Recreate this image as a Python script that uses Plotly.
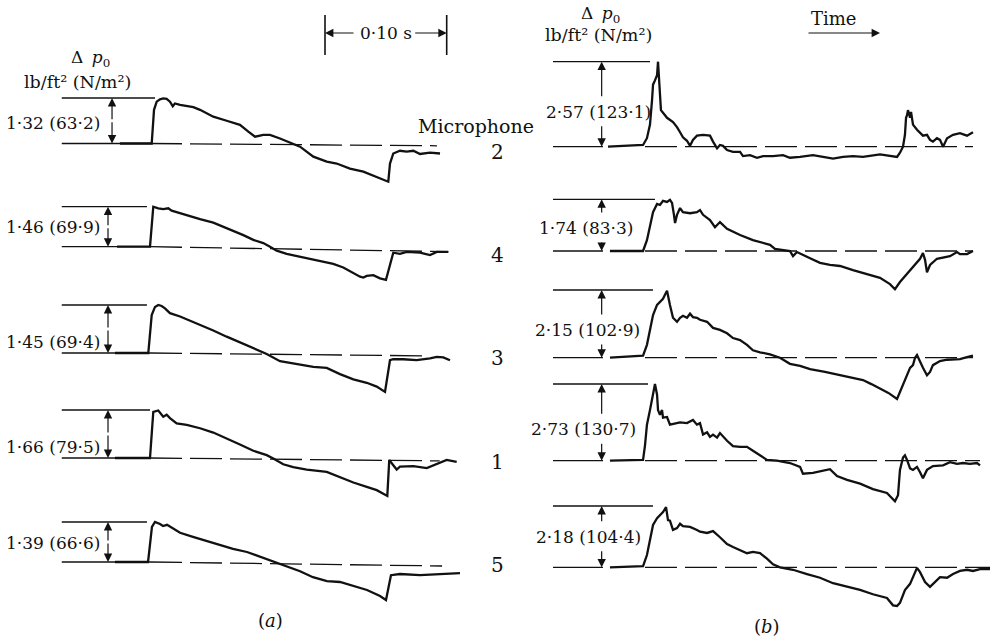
import plotly.graph_objects as go

# ------------------------------------------------------------------
# DATA  (time t in ms measured from shock arrival; pressure p = Δp/Δp0)
# ------------------------------------------------------------------
microphones = ["2", "4", "3", "1", "5"]
peak_a_lbft2 = [1.32, 1.46, 1.45, 1.66, 1.39]
peak_a_Nm2 = [63.2, 69.9, 69.4, 79.5, 66.6]
peak_b_lbft2 = [2.57, 1.74, 2.15, 2.73, 2.18]
peak_b_Nm2 = [123.1, 83.3, 102.9, 130.7, 104.4]
scale_bar_ms = 100  # the 0·10 s bar

# panel (a)
t_a2 = [-24.7, 1.4, 3.3, 5.5, 8.2, 10.9, 13.7, 16.4, 18.7, 20.5, 24.7, 35.6, 41.1, 52.0, 63.0, 73.9, 80.8, 86.3, 93.1, 98.6,
        106.8, 117.7, 123.3, 134.2, 145.2, 153.4, 164.3, 175.3, 186.3, 195.8, 197.2, 199.9, 205.4, 210.9, 216.4, 221.9, 230.1, 238.3]
p_a2 = [0.00, 0.00, 0.74, 0.92, 0.97, 0.99, 0.98, 0.92, 0.82, 0.88, 0.85, 0.80, 0.74, 0.59, 0.50, 0.41, 0.26, 0.15, 0.19, 0.19,
        0.11, 0.00, -0.07, -0.29, -0.40, -0.44, -0.55, -0.62, -0.73, -0.84, -0.44, -0.22, -0.16, -0.18, -0.16, -0.23, -0.20, -0.22]

t_a4 = [-27.1, 0, 2.7, 6.8, 10.9, 15.0, 17.8, 21.9, 30.2, 41.1, 52.0, 60.2, 68.4, 76.7, 84.9, 93.1, 98.6, 104.1, 112.3, 123.3,
        134.2, 145.2, 150.6, 158.8, 167.1, 172.6, 175.3, 178.1, 183.5, 189.0, 193.9, 199.9, 205.4, 210.9, 221.9, 230.1, 235.6, 245.1]
p_a4 = [0, 0, 1.00, 0.96, 0.94, 0.96, 0.90, 0.86, 0.79, 0.69, 0.60, 0.50, 0.38, 0.29, 0.17, 0.09, 0.00, -0.10, -0.18, -0.25,
        -0.32, -0.38, -0.43, -0.52, -0.65, -0.75, -0.77, -0.73, -0.71, -0.79, -0.83, -0.15, -0.18, -0.13, -0.15, -0.21, -0.13, -0.13]

t_a3 = [-28.8, -1.4, 1.4, 4.1, 6.8, 9.6, 12.3, 16.4, 24.7, 35.6, 43.8, 52.0, 63.0, 73.9, 84.9, 95.9, 106.8, 115.0, 123.3, 134.2,
        145.2, 156.1, 167.1, 172.6, 178.1, 186.3, 193.1, 197.2, 199.9, 208.1, 219.1, 230.1, 235.6, 241.0, 246.5]
p_a3 = [0, 0, 0.79, 0.96, 1.00, 0.98, 0.93, 0.83, 0.76, 0.65, 0.56, 0.47, 0.34, 0.22, 0.11, -0.02, -0.17, -0.21, -0.25, -0.29,
        -0.31, -0.44, -0.55, -0.58, -0.62, -0.70, -0.81, -0.15, -0.13, -0.13, -0.15, -0.11, -0.08, -0.09, -0.15]

t_a1 = [-28.8, 0, 2.7, 6.8, 10.9, 13.7, 16.4, 21.9, 30.2, 41.1, 52.0, 63.0, 73.9, 84.9, 95.9, 101.3, 109.5, 117.7, 128.8, 145.2,
        156.1, 167.1, 178.1, 186.3, 195.0, 196.6, 199.9, 202.7, 205.4, 216.4, 227.4, 232.8, 243.8, 252.0]
p_a1 = [0, 0, 0.96, 0.99, 0.86, 0.90, 0.83, 0.72, 0.69, 0.62, 0.53, 0.41, 0.28, 0.15, 0.06, -0.01, -0.13, -0.19, -0.24, -0.29,
        -0.40, -0.51, -0.60, -0.67, -0.79, -0.04, -0.15, -0.24, -0.18, -0.17, -0.21, -0.15, -0.04, -0.08]

t_a5 = [-28.8, -1.6, 1.6, 4.1, 8.2, 10.7, 14.0, 18.9, 24.7, 35.3, 46.8, 57.5, 68.2, 79.7, 90.4, 101.1, 112.6, 123.3, 133.9, 145.4,
        156.1, 166.8, 178.3, 189.0, 193.9, 198.0, 205.4, 221.9, 238.3, 254.7]
p_a5 = [0, 0, 0.88, 1.00, 0.95, 0.90, 0.93, 0.83, 0.73, 0.63, 0.53, 0.43, 0.33, 0.25, 0.13, 0.03, -0.10, -0.23, -0.38, -0.48,
        -0.50, -0.60, -0.70, -0.85, -0.95, -0.33, -0.30, -0.33, -0.30, -0.28]

# panel (b)
t_b2 = [-30.4, -1.6, 1.6, 4.1, 5.8, 6.6, 8.2, 9.9, 10.7, 11.5, 12.3, 13.1, 14.8, 18.1, 23.0, 26.3, 28.8, 31.2, 34.5, 37.0,
        39.4, 42.7, 47.7, 53.4, 55.9, 59.2, 61.6, 64.1, 67.4, 72.3, 78.1, 80.5, 86.3, 92.0, 97.0, 105.2, 113.4, 119.1, 127.4, 138.0,
        146.3, 154.5, 162.7, 170.9, 179.1, 187.3, 193.1, 207.1, 209.5, 212.0, 213.6, 214.5, 215.3, 216.1, 217.8, 218.6, 220.2, 223.5,
        226.0, 228.4, 231.7, 234.2, 236.6, 239.9, 242.4, 244.9, 248.2, 253.1, 258.8, 264.6, 269.5]
p_b2 = [0, 0.02, 0.10, 0.26, 0.55, 0.73, 0.78, 0.84, 1.00, 0.76, 0.55, 0.43, 0.40, 0.34, 0.29, 0.23, 0.17, 0.11, 0.07, 0.01,
        0.08, 0.13, 0.14, 0.13, 0.06, -0.02, 0.02, 0.01, -0.04, -0.06, -0.06, -0.11, -0.10, -0.13, -0.11, -0.11, -0.10, -0.13, -0.12, -0.10,
        -0.12, -0.14, -0.12, -0.11, -0.12, -0.10, -0.09, -0.12, -0.07, 0.00, 0.14, 0.34, 0.37, 0.43, 0.34, 0.41, 0.26, 0.20,
        0.17, 0.13, 0.14, 0.08, 0.06, 0.10, 0.08, 0.00, 0.10, 0.14, 0.16, 0.13, 0.17]

t_b4 = [-28.8, -1.6, 1.6, 4.1, 6.6, 9.9, 12.3, 14.8, 18.1, 20.5, 22.2, 23.8, 24.7, 26.3, 28.8, 31.2, 37.0, 42.7, 45.2, 47.7,
        53.4, 57.5, 61.6, 67.4, 78.1, 88.7, 97.0, 102.7, 106.8, 113.4, 119.1, 121.6, 124.9, 135.6, 143.8, 152.0, 160.2, 170.9, 182.4, 193.1,
        201.3, 205.4, 209.5, 217.8, 223.5, 226.0, 228.4, 230.1, 231.7, 234.2, 239.9, 244.9, 250.6, 256.4, 258.8, 264.6, 269.5]
p_b4 = [0, 0, 0.21, 0.50, 0.75, 0.91, 0.89, 0.97, 0.95, 0.99, 0.93, 0.70, 0.54, 0.70, 0.83, 0.75, 0.73, 0.75, 0.79, 0.70,
        0.60, 0.46, 0.56, 0.43, 0.31, 0.21, 0.15, 0.12, 0.04, 0.02, 0.00, -0.10, -0.02, -0.14, -0.23, -0.27, -0.29, -0.37, -0.44, -0.52,
        -0.64, -0.74, -0.60, -0.37, -0.21, -0.15, -0.04, -0.17, -0.41, -0.27, -0.15, -0.12, -0.10, -0.02, -0.06, -0.06, 0.00]

t_b3 = [-28.8, -1.6, 1.6, 4.1, 6.6, 9.9, 12.3, 14.8, 16.4, 18.1, 20.5, 23.0, 26.3, 28.8, 31.2, 34.5, 37.0, 39.4, 42.7, 45.2,
        51.0, 55.9, 61.6, 67.4, 72.3, 78.1, 83.8, 88.7, 94.5, 102.7, 110.9, 119.1, 127.4, 135.6, 147.9, 160.2, 170.0, 179.1, 186.0, 193.1,
        200.0, 207.1, 212.0, 215.3, 217.8, 220.2, 221.9, 223.5, 226.0, 228.4, 231.7, 234.2, 236.6, 242.4, 248.2, 253.1, 258.8, 264.6, 269.5]
p_b3 = [0, 0.03, 0.19, 0.41, 0.63, 0.78, 0.82, 0.87, 0.93, 0.99, 0.78, 0.59, 0.53, 0.59, 0.62, 0.59, 0.65, 0.60, 0.59, 0.56,
        0.53, 0.44, 0.41, 0.36, 0.29, 0.26, 0.19, 0.11, 0.08, 0.05, 0.00, -0.09, -0.12, -0.17, -0.21, -0.26, -0.29, -0.33, -0.39, -0.45,
        -0.52, -0.61, -0.40, -0.26, -0.15, -0.11, 0.00, 0.04, -0.06, -0.15, -0.26, -0.21, -0.11, -0.05, -0.03, -0.03, -0.02, 0.01, 0.03]

t_b1 = [-28.8, -1.6, 0, 1.6, 4.1, 5.8, 7.4, 8.2, 9.9, 10.7, 12.3, 14.0, 14.8, 18.1, 20.5, 23.0, 28.8, 34.5, 39.4, 42.7,
        45.2, 47.7, 51.0, 53.4, 55.9, 59.2, 61.6, 67.4, 72.3, 78.1, 83.8, 88.7, 94.5, 100.2, 108.4, 119.1, 127.4, 129.8, 138.0, 146.3,
        152.0, 157.8, 166.0, 176.7, 187.3, 198.8, 205.4, 207.9, 209.5, 212.0, 213.6, 215.3, 217.8, 220.2, 223.5, 226.0, 228.4, 231.7,
        236.6, 244.9, 250.6, 256.4, 261.3, 267.0, 272.8, 275.3]
p_b1 = [0, 0.01, 0.20, 0.47, 0.66, 0.79, 0.92, 1.00, 0.86, 0.66, 0.60, 0.66, 0.56, 0.57, 0.47, 0.48, 0.50, 0.49, 0.53, 0.47,
        0.49, 0.34, 0.37, 0.31, 0.34, 0.30, 0.36, 0.26, 0.19, 0.18, 0.18, 0.13, 0.07, 0.01, 0.00, -0.03, -0.08, -0.17, -0.16, -0.13,
        -0.11, -0.20, -0.25, -0.30, -0.37, -0.42, -0.53, -0.45, -0.12, 0.04, 0.07, 0.01, -0.10, -0.12, -0.08, -0.15, -0.23, -0.12,
        -0.07, -0.06, -0.02, -0.04, -0.03, -0.04, -0.03, -0.06]

t_b5 = [-28.8, -1.6, 1.6, 4.1, 6.6, 9.9, 12.3, 14.8, 17.3, 18.9, 20.5, 23.0, 26.3, 28.8, 31.2, 37.0, 42.7, 45.2, 51.0, 55.9,
        61.6, 67.4, 72.3, 78.1, 83.8, 88.7, 94.5, 100.2, 105.2, 110.9, 121.6, 133.1, 143.8, 154.5, 166.0, 176.7, 187.3, 198.8, 203.8, 207.1,
        209.5, 213.6, 217.8, 223.5, 226.0, 230.1, 234.2, 238.3, 242.4, 248.2, 253.1, 258.8, 264.6, 269.5, 275.3, 283.5]
p_b5 = [0, 0.02, 0.20, 0.45, 0.69, 0.80, 0.85, 0.90, 0.98, 0.77, 0.76, 0.61, 0.64, 0.71, 0.67, 0.66, 0.61, 0.58, 0.56, 0.59,
        0.49, 0.38, 0.33, 0.28, 0.23, 0.25, 0.23, 0.14, 0.05, 0.00, -0.04, -0.11, -0.17, -0.26, -0.32, -0.37, -0.44, -0.50, -0.62, -0.63,
        -0.58, -0.37, -0.27, -0.01, -0.08, -0.24, -0.32, -0.24, -0.16, -0.17, -0.11, -0.06, -0.04, -0.06, -0.03, -0.03]

traces_a = [(t_a2, p_a2), (t_a4, p_a4), (t_a3, p_a3), (t_a1, p_a1), (t_a5, p_a5)]
traces_b = [(t_b2, p_b2), (t_b4, p_b4), (t_b3, p_b3), (t_b1, p_b1), (t_b5, p_b5)]

# ------------------------------------------------------------------
# LAYOUT (pixel geometry of the page)
# ------------------------------------------------------------------
W, H = 998, 642
PX_PER_MS = 1.217
SERIF = "DejaVu Serif, Liberation Serif, serif"
INK = "#111111"

panel_x0 = {"a": 150.0, "b": 645.0}      # pixel x of t = 0
panel_xaxis = {"a": "x", "b": "x2"}

layout_a = [
    dict(yb=143.5, h=45.5, top_end=4.1, dash_end=235.8, drop=-0.05, arrow_t=-31.2, label_p=0.45),
    dict(yb=246.7, h=40.0, top_end=-2.5, dash_end=245.1, drop=-0.125, arrow_t=-34.5, label_p=0.50),
    dict(yb=353.0, h=48.0, top_end=-2.5, dash_end=228.4, drop=-0.06, arrow_t=-34.5, label_p=0.235),
    dict(yb=458.0, h=48.0, top_end=0.0, dash_end=238.0, drop=-0.06, arrow_t=-34.5, label_p=0.235),
    dict(yb=562.0, h=40.0, top_end=-2.5, dash_end=240.0, drop=-0.10, arrow_t=-34.5, label_p=0.47),
]
layout_b = [
    dict(yb=146.7, h=85.0, top_end=4.1, dash_end=269.5, label_t=-38.6, label_p=0.41),
    dict(yb=251.0, h=51.7, top_end=8.2, dash_end=269.5, label_t=-48.5, label_p=0.445),
    dict(yb=357.7, h=67.7, top_end=6.6, dash_end=269.5, label_t=-47.2, label_p=0.41),
    dict(yb=460.7, h=76.7, top_end=2.5, dash_end=275.3, label_t=-50.5, label_p=0.41),
    dict(yb=567.3, h=61.3, top_end=6.6, dash_end=283.5, label_t=-46.8, label_p=0.50),
]
A_LEFT, A_LABEL_RIGHT = -72.5, -39.5
B_LEFT, B_SOLID_END, B_ARROW = -75.6, -34.5, -35.6
mic_label_y = [151.7, 255.0, 358.0, 461.7, 565.0]
LABEL_SIZE = 17


def fmt(v, nd):
    return f"{v:.{nd}f}".replace(".", "·")


def py(pix):
    return 1 - pix / H


fig = go.Figure()
shapes, annos = [], []
layout_axes = {}

for key, x0 in panel_x0.items():
    name = "xaxis" if key == "a" else "xaxis2"
    ax = dict(range=[-x0 / PX_PER_MS, (W - x0) / PX_PER_MS], domain=[0, 1], visible=False,
              fixedrange=True, showgrid=False, zeroline=False)
    if key == "b":
        ax["overlaying"] = "x"
    layout_axes[name] = ax

rows = []
for i in range(5):
    rows.append(("a", i, traces_a[i], layout_a[i], peak_a_lbft2[i], peak_a_Nm2[i]))
for i in range(5):
    rows.append(("b", i, traces_b[i], layout_b[i], peak_b_lbft2[i], peak_b_Nm2[i]))

arrow_style = dict(showarrow=True, text="", arrowhead=2, arrowsize=1.4, arrowwidth=1.2,
                   arrowcolor=INK, standoff=0, startstandoff=0)

for k, (panel, i, (tt, pp), L, lb, nm) in enumerate(rows):
    yid = "y" if k == 0 else f"y{k + 1}"
    yname = "yaxis" if k == 0 else f"yaxis{k + 1}"
    xid = panel_xaxis[panel]
    yb, hh = L["yb"], L["h"]
    yax = dict(range=[-(H - yb) / hh, yb / hh], domain=[0, 1], visible=False, fixedrange=True,
               showgrid=False, zeroline=False, anchor=xid)
    if k > 0:
        yax["overlaying"] = "y"
    layout_axes[yname] = yax

    fig.add_trace(go.Scatter(x=tt, y=pp, xaxis=xid, yaxis=yid, mode="lines",
                             line=dict(color=INK, width=2.3), hoverinfo="skip", showlegend=False))

    label = f"{fmt(lb, 2)} ({fmt(nm, 1)})"
    if panel == "a":
        left = A_LEFT
        shapes.append(dict(type="line", xref=xid, yref=yid, x0=left, x1=L["top_end"], y0=1, y1=1,
                           line=dict(color=INK, width=1.3)))
        shapes.append(dict(type="line", xref=xid, yref=yid, x0=left, x1=0, y0=0, y1=0,
                           line=dict(color=INK, width=1.3)))
        shapes.append(dict(type="line", xref=xid, yref=yid, x0=0, x1=L["dash_end"], y0=0, y1=L["drop"],
                           line=dict(color=INK, width=1.3, dash="32px,8px")))
        at = L["arrow_t"]
        annos.append(dict(xref=xid, yref=yid, axref=xid, ayref=yid, x=at, y=1, ax=at, ay=0.5, **arrow_style))
        annos.append(dict(xref=xid, yref=yid, axref=xid, ayref=yid, x=at, y=0, ax=at, ay=0.5, **arrow_style))
        annos.append(dict(xref=xid, yref=yid, x=A_LABEL_RIGHT, y=L["label_p"], text=label, showarrow=False,
                          xanchor="right", yanchor="middle", font=dict(family=SERIF, size=LABEL_SIZE, color=INK)))
    else:
        left = B_LEFT
        shapes.append(dict(type="line", xref=xid, yref=yid, x0=left, x1=L["top_end"], y0=1, y1=1,
                           line=dict(color=INK, width=1.3)))
        shapes.append(dict(type="line", xref=xid, yref=yid, x0=left, x1=B_SOLID_END, y0=0, y1=0,
                           line=dict(color=INK, width=1.3)))
        shapes.append(dict(type="line", xref=xid, yref=yid, x0=0, x1=L["dash_end"], y0=0, y1=0,
                           line=dict(color=INK, width=1.3, dash="32px,8px")))
        lp = L["label_p"]
        annos.append(dict(xref=xid, yref=yid, axref=xid, ayref=yid, x=B_ARROW, y=1, ax=B_ARROW,
                          ay=lp + 14 / hh, **arrow_style))
        annos.append(dict(xref=xid, yref=yid, axref=xid, ayref=yid, x=B_ARROW, y=0, ax=B_ARROW,
                          ay=lp - 13 / hh, **arrow_style))
        annos.append(dict(xref=xid, yref=yid, x=L["label_t"], y=lp, text=label, showarrow=False,
                          xanchor="center", yanchor="middle", font=dict(family=SERIF, size=LABEL_SIZE, color=INK)))

# microphone column
annos.append(dict(xref="paper", yref="paper", x=476 / W, y=py(126), text="Microphone", showarrow=False,
                  xanchor="center", yanchor="middle", font=dict(family=SERIF, size=19, color=INK)))
for m, yy in zip(microphones, mic_label_y):
    annos.append(dict(xref="paper", yref="paper", x=497 / W, y=py(yy), text=m, showarrow=False,
                      xanchor="center", yanchor="middle", font=dict(family=SERIF, size=20, color=INK)))

# headers (Δp0 line sits just above the unit line)
for cx, cy1, cx2, cy2 in [(90, 59, 77, 82), (600, 14, 598, 35)]:
    annos.append(dict(xref="paper", yref="paper", x=cx / W, y=py(cy1), text="Δ\u2002<i>p</i><sub>0</sub>",
                      showarrow=False, xanchor="center", yanchor="middle",
                      font=dict(family=SERIF, size=17, color=INK)))
    annos.append(dict(xref="paper", yref="paper", x=cx2 / W, y=py(cy2), text="lb/ft² (N/m²)",
                      showarrow=False, xanchor="center", yanchor="middle",
                      font=dict(family=SERIF, size=17.5, color=INK)))

# panel letters
annos.append(dict(xref="paper", yref="paper", x=270 / W, y=py(620), text="(<i>a</i>)", showarrow=False,
                  xanchor="center", yanchor="middle", font=dict(family=SERIF, size=18, color=INK)))
annos.append(dict(xref="paper", yref="paper", x=767 / W, y=py(626), text="(<i>b</i>)", showarrow=False,
                  xanchor="center", yanchor="middle", font=dict(family=SERIF, size=18, color=INK)))

# time arrow for (b)
annos.append(dict(xref="paper", yref="paper", x=833 / W, y=py(18), text="Time", showarrow=False,
                  xanchor="center", yanchor="middle", font=dict(family=SERIF, size=18, color=INK)))
annos.append(dict(xref="paper", yref="paper", x=880 / W, y=py(33), ax=-73, ay=0, showarrow=True, text="",
                  arrowhead=2, arrowsize=1.4, arrowwidth=1.2, arrowcolor=INK, standoff=0))

# 0·10 s scale bar on panel (a) time axis
sb0 = (325 - panel_x0["a"]) / PX_PER_MS
sb1 = sb0 + scale_bar_ms
for xv in (sb0, sb1):
    shapes.append(dict(type="line", xref="x", yref="paper", x0=xv, x1=xv, y0=py(55), y1=py(15),
                       line=dict(color=INK, width=1.6)))
annos.append(dict(xref="x", yref="paper", x=(sb0 + sb1) / 2, y=py(33), text=fmt(scale_bar_ms / 1000, 2) + " s",
                  showarrow=False, xanchor="center", yanchor="middle", font=dict(family=SERIF, size=17, color=INK)))
annos.append(dict(xref="x", yref="paper", x=sb0, y=py(33), ax=30, ay=0, showarrow=True, text="",
                  arrowhead=2, arrowsize=1.4, arrowwidth=1.2, arrowcolor=INK, standoff=0))
annos.append(dict(xref="x", yref="paper", x=sb1, y=py(33), ax=-33, ay=0, showarrow=True, text="",
                  arrowhead=2, arrowsize=1.4, arrowwidth=1.2, arrowcolor=INK, standoff=0))

fig.update_layout(width=W, height=H, margin=dict(l=0, r=0, t=0, b=0), paper_bgcolor="white",
                  plot_bgcolor="white", showlegend=False, shapes=shapes, annotations=annos, **layout_axes)

fig.write_html("out.html", config={"displayModeBar": False},
               post_script="document.body.style.margin='0px';document.body.style.overflow='hidden';")
